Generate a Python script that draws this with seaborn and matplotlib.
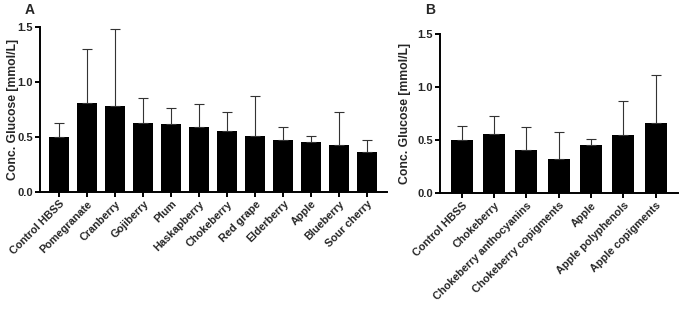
import pandas as pd
import matplotlib
matplotlib.use("Agg")
import matplotlib.pyplot as plt
import seaborn as sns

# Panel A: fruit extracts
labels_a = ["Control HBSS", "Pomegranate", "Cranberry", "Gojiberry", "Plum", "Haskapberry",
            "Chokeberry", "Red grape", "Elderberry", "Apple", "Blueberry", "Sour cherry"]
mean_a = [0.50, 0.81, 0.78, 0.63, 0.62, 0.59, 0.55, 0.51, 0.47, 0.45, 0.43, 0.36]
upper_a = [0.627, 1.30, 1.48, 0.85, 0.76, 0.80, 0.73, 0.87, 0.59, 0.51, 0.73, 0.47]

# Panel B: fractions
labels_b = ["Control HBSS", "Chokeberry", "Chokeberry anthocyanins", "Chokeberry copigments",
            "Apple", "Apple polyphenols", "Apple copigments"]
mean_b = [0.505, 0.555, 0.41, 0.32, 0.45, 0.55, 0.66]
upper_b = [0.63, 0.73, 0.62, 0.58, 0.51, 0.865, 1.11]

yticks = [0.0, 0.5, 1.0, 1.5]


def draw_panel(ax, labels, means, uppers, width, labelpad):
    df = pd.DataFrame({"sample": labels, "glucose": means})
    sns.barplot(data=df, x="sample", y="glucose", color="black", saturation=1,
                width=width, errorbar=None, edgecolor="black", linewidth=0, ax=ax)
    err = [u - m for m, u in zip(means, uppers)]
    ax.errorbar(range(len(labels)), means, yerr=[[0] * len(err), err], fmt="none",
                ecolor="#333333", elinewidth=0.8, capsize=3.5, capthick=0.8)
    ax.set_ylim(0, 1.5)
    ax.set_xlim(-0.68, len(labels) - 1 + 0.70)
    ax.set_yticks(yticks)
    ax.set_yticklabels([f"{t:.1f}" for t in yticks], fontweight="bold", fontsize=8)
    ax.set_xticks(range(len(labels)))
    ax.set_xticklabels(labels, rotation=45, ha="right", rotation_mode="anchor",
                       fontweight="bold", fontsize=7.8)
    ax.set_xlabel("")
    ax.set_ylabel("Conc. Glucose [mmol/L]", fontweight="bold", fontsize=8.8,
                  labelpad=labelpad)
    sns.despine(ax=ax)
    for s in ["left", "bottom"]:
        ax.spines[s].set_linewidth(1.4)
        ax.spines[s].set_color("black")
    ax.tick_params(axis="both", direction="out", length=3.5, width=1.4,
                   color="black", pad=1.5)
    ax.grid(False)


sns.set_theme(style="ticks")
plt.rcParams["font.family"] = ["Liberation Sans", "DejaVu Sans"]

fig = plt.figure(figsize=(6.83, 3.11), dpi=100)
ax_a = fig.add_axes([0.0586, 0.383, 0.508, 0.530])
ax_b = fig.add_axes([0.644, 0.379, 0.349, 0.512])

draw_panel(ax_a, labels_a, mean_a, upper_a, 0.72, -1)
draw_panel(ax_b, labels_b, mean_b, upper_b, 0.68, 4.5)

fig.text(30 / 683, 1 - 10 / 311, "A", fontsize=10, fontweight="bold", va="center", ha="center")
fig.text(430 / 683, 1 - 10 / 311, "B", fontsize=10, fontweight="bold", va="center", ha="center")

fig.savefig("out.png", dpi=100)
